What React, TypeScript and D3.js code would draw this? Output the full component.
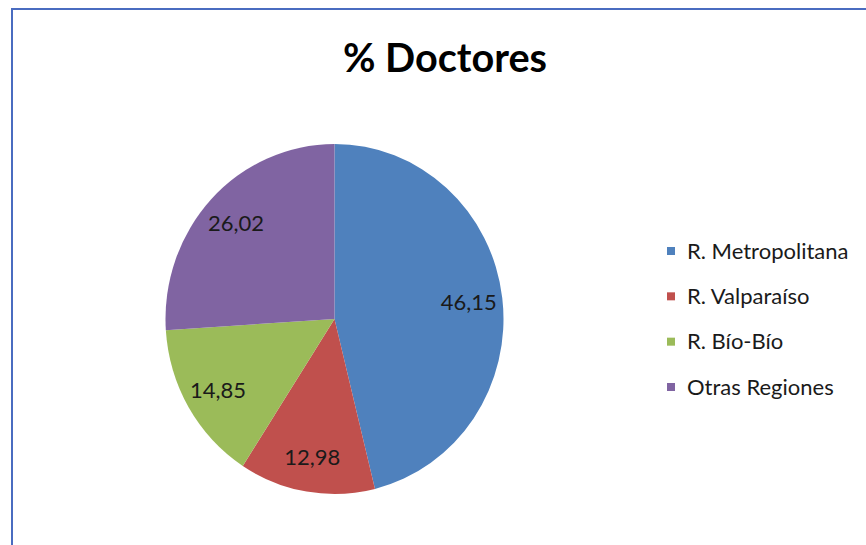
import React from 'react';
import * as d3 from 'd3';

const regiones = ['R. Metropolitana', 'R. Valparaíso', 'R. Bío-Bío', 'Otras Regiones'];
const porcentajes = [46.15, 12.98, 14.85, 26.02];
const etiquetas = ['46,15', '12,98', '14,85', '26,02'];
const colores = ['#4F81BD', '#C0504D', '#9BBB59', '#8064A2'];

const W = 866;
const H = 545;

export default function App() {
    const cx = 334.5;
    const cy = 319;
    const radius = 169;
    const yStretch = 175 / 169;

    const pie = d3.pie<number>().sort(null).value(d => d);
    const arcs = pie(porcentajes);
    const arc = d3.arc<d3.PieArcDatum<number>>().innerRadius(0).outerRadius(radius);
    const labelArc = d3.arc<d3.PieArcDatum<number>>().innerRadius(radius * 0.8).outerRadius(radius * 0.8);

    const legendY = d3.scalePoint<string>().domain(regiones).range([251, 387]);

    return (
        <div style={{ position: 'absolute', left: 0, top: 0 }}>
            <svg width={W} height={H} style={{ display: 'block', fontFamily: 'Lato, sans-serif' }}>
                <rect x={0} y={0} width={W} height={H} fill="#fff" />
                {/* chart border (only top and left visible) */}
                <rect x={12} y={9} width={W + 20} height={H + 20} fill="none" stroke="#4a6cc0" strokeWidth={2} />

                <text x={445} y={72} textAnchor="middle" fontSize={40} fontWeight={700} fill="#000"
                    textLength={204} lengthAdjust="spacingAndGlyphs">% Doctores</text>

                <g transform={`translate(${cx},${cy}) scale(1,${yStretch})`}>
                    {arcs.map((a, i) => (
                        <path key={i} d={arc(a) || ''} fill={colores[i]} />
                    ))}
                </g>
                <g transform={`translate(${cx},${cy})`}>
                    {arcs.map((a, i) => {
                        const [lx, ly] = labelArc.centroid(a);
                        return (
                            <text key={i} x={lx} y={ly * yStretch} dy="0.35em" textAnchor="middle"
                                fontSize={22} fill="#1a1a1a">{etiquetas[i]}</text>
                        );
                    })}
                </g>

                <g>
                    {regiones.map((r, i) => (
                        <g key={r} transform={`translate(667,${legendY(r)})`}>
                            <rect x={0} y={-4} width={8} height={8} fill={colores[i]} />
                            <text x={20} y={0} dy="0.35em" fontSize={22} fill="#1a1a1a">{r}</text>
                        </g>
                    ))}
                </g>
            </svg>
        </div>
    );
}
